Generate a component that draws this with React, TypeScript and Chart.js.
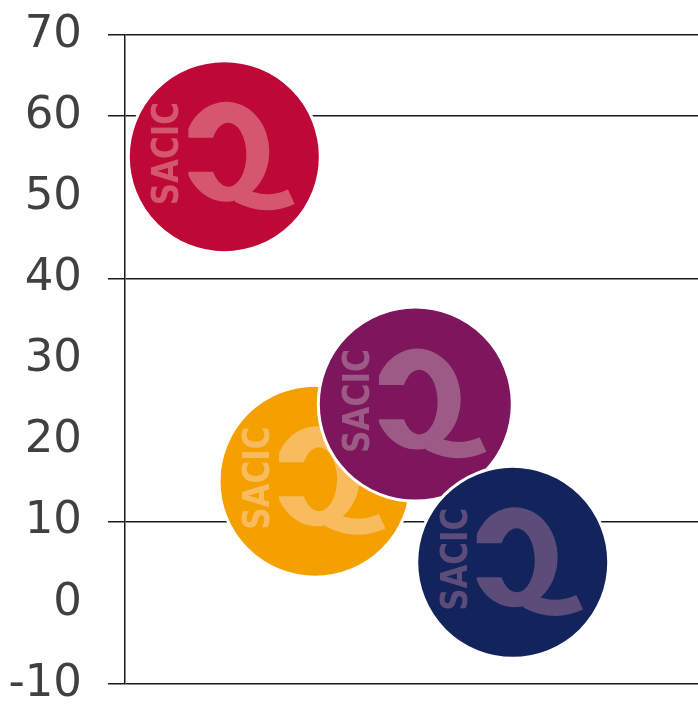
import React, { useEffect, useRef } from "react";
import { Chart, registerables } from "chart.js";

Chart.register(...registerables);

// ---- data ----
const seriesNames = ["Serie 1", "Serie 2", "Serie 3", "Serie 4"];
const xValues = [1.04, 1.99, 3.04, 4.06];
const yValues = [55, 15, 24.5, 5];
const bubbleRadii = [96, 96, 97, 96];
const fillColors = ["#BE0835", "#F4A100", "#7D165D", "#13235B"];
const logoColors = ["#D4566F", "#F8BC5E", "#9D5A84", "#5B4C7A"];
const yMin = -10;
const yMax = 70;
const yStep = 10;
const xMin = 0;
const xMax = 6;
const gridValues = [70, 60, 40, 10, -10];
const logoText = "SACIC";

function drawLogo(ctx: CanvasRenderingContext2D, cx: number, cy: number, r: number, color: string) {
  const s = r / 96;
  ctx.save();
  ctx.beginPath();
  ctx.arc(cx, cy, Math.max(r - 1, 0), 0, Math.PI * 2);
  ctx.clip();
  ctx.fillStyle = color;
  ctx.strokeStyle = color;

  // rotated text
  ctx.save();
  ctx.translate(cx - 59.5 * s, cy - 3 * s);
  ctx.rotate(-Math.PI / 2);
  const fs = 37 * s;
  ctx.font = `bold ${fs}px 'DejaVu Sans', sans-serif`;
  ctx.textAlign = "center";
  ctx.textBaseline = "alphabetic";
  const w = ctx.measureText(logoText).width;
  ctx.scale((103 * s) / w, 1);
  ctx.fillText(logoText, 0, (fs * 0.729) / 2);
  ctx.restore();

  // Q ring (outer ellipse minus hole, cut on the left)
  ctx.save();
  ctx.beginPath();
  ctx.rect(cx - 36 * s, cy - r, r + 36 * s, 2 * r);
  ctx.clip();
  const ox = cx + 2 * s, oy = cy - 5 * s, orx = 43 * s, ory = 50 * s;
  const ix = cx + 4 * s, iy = cy - 2 * s, irx = 18 * s, iry = 32 * s;
  const gTop = cy - 19 * s, gBot = cy + 15 * s;
  const farLeft = cx - 40 * s;
  const a1 = Math.PI + Math.asin((iy - gTop) / iry);
  const a2 = Math.PI - Math.asin((gBot - iy) / iry);
  ctx.beginPath();
  ctx.ellipse(ox, oy, orx, ory, 0, 0, Math.PI * 2);
  ctx.moveTo(ix + irx * Math.cos(a1), iy + iry * Math.sin(a1));
  ctx.ellipse(ix, iy, irx, iry, 0, a1, a2 + Math.PI * 2, false);
  ctx.lineTo(farLeft, gBot);
  ctx.lineTo(farLeft, gTop);
  ctx.closePath();
  ctx.fill("evenodd");
  ctx.restore();

  // tail
  ctx.beginPath();
  ctx.moveTo(cx + 14 * s, cy + 38 * s);
  ctx.quadraticCurveTo(cx + 41 * s, cy + 52 * s, cx + 67 * s, cy + 40 * s);
  ctx.lineWidth = 16 * s;
  ctx.lineCap = "butt";
  ctx.stroke();

  ctx.restore();
}

const logoPlugin = {
  id: "sacicLogo",
  afterDatasetDraw(chart: any, args: any) {
    const ds: any = chart.data.datasets[args.index];
    const ctx = chart.ctx;
    args.meta.data.forEach((el: any) => {
      drawLogo(ctx, el.x, el.y, el.options.radius, ds.logoColor);
    });
  },
};

export default function App() {
  const canvasRef = useRef<HTMLCanvasElement | null>(null);

  useEffect(() => {
    if (!canvasRef.current) return;
    const n = seriesNames.length;
    const datasets = seriesNames.map((name, i) => ({
      label: name,
      data: [{ x: xValues[i], y: yValues[i], r: bubbleRadii[i] }],
      backgroundColor: fillColors[i],
      borderColor: "#FFFFFF",
      borderWidth: 3,
      logoColor: logoColors[i],
      order: n - 1 - i,
      clip: false as any,
    }));

    const chart = new Chart(canvasRef.current, {
      type: "bubble",
      data: { datasets } as any,
      options: {
        responsive: false,
        animation: false,
        events: [],
        layout: { autoPadding: false, padding: { top: 35, bottom: 24, left: 0, right: 0 } },
        plugins: {
          legend: { display: false },
          tooltip: { enabled: false },
        },
        scales: {
          x: { type: "linear", display: false, min: xMin, max: xMax },
          y: {
            type: "linear",
            min: yMin,
            max: yMax,
            afterFit: (scale: any) => {
              scale.width = 125;
              scale.paddingTop = 0;
              scale.paddingBottom = 0;
            },
            ticks: {
              stepSize: yStep,
              color: "#404040",
              padding: 26,
              font: { family: "'DejaVu Sans', sans-serif", size: 45 },
            },
            grid: {
              color: (c: any) => (c.tick && gridValues.includes(c.tick.value) ? "#1A1A1A" : "rgba(0,0,0,0)"),
              lineWidth: 1.5,
              tickLength: 17,
              drawTicks: true,
            },
            border: { display: true, color: "#1A1A1A", width: 1.5 },
          },
        },
      } as any,
      plugins: [logoPlugin],
    });
    return () => chart.destroy();
  }, []);

  return (
    <div style={{ position: "absolute", left: 0, top: 0, width: 698, height: 708, background: "#FFFFFF" }}>
      <canvas ref={canvasRef} width={698} height={708} />
    </div>
  );
}
